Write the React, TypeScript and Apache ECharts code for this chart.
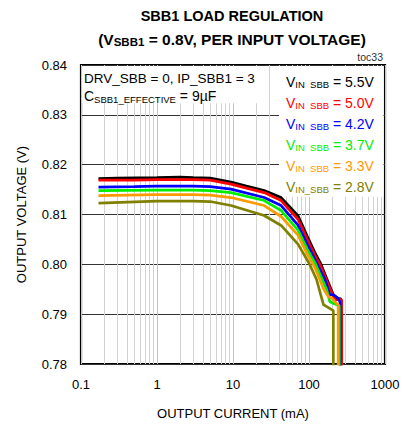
import React, { useEffect, useRef } from "react";
import * as echarts from "echarts";

// ---- data (output current in mA, output voltage in V) ----
const I_55 = [0.17, 0.3, 1, 2, 3, 5, 9.4, 15, 25.7, 43, 72, 95, 119, 141, 180, 210, 240, 262, 262];
const V_55 = [0.8172, 0.8173, 0.8174, 0.8175, 0.8174, 0.8173, 0.8165, 0.8157, 0.8148, 0.8134, 0.8097, 0.8056, 0.8024, 0.8003, 0.7963, 0.7938, 0.7932, 0.7931, 0.77];

const I_50 = [0.17, 0.5, 1, 3, 5, 9.4, 15, 25.7, 43, 72, 95, 119, 141, 180, 220, 269, 269];
const V_50 = [0.8169, 0.8169, 0.817, 0.817, 0.8169, 0.8161, 0.8153, 0.8144, 0.8128, 0.809, 0.805, 0.8018, 0.7998, 0.7959, 0.7929, 0.7929, 0.77];

const I_42 = [0.17, 0.5, 1, 3, 5, 9.4, 25.7, 43, 72, 95, 119, 162, 188, 210, 235, 256, 256];
const V_42 = [0.8155, 0.8156, 0.8157, 0.8157, 0.8156, 0.8151, 0.8134, 0.8118, 0.8078, 0.804, 0.801, 0.7969, 0.7939, 0.7939, 0.7933, 0.7925, 0.77];

const I_37 = [0.17, 1, 3, 5, 9.4, 25.7, 43, 72, 95, 119, 171, 188, 215, 250, 250];
const V_37 = [0.8148, 0.8149, 0.8149, 0.8148, 0.8144, 0.8128, 0.8108, 0.8068, 0.803, 0.8004, 0.7949, 0.7925, 0.7921, 0.7917, 0.77];

const I_33 = [0.17, 1, 3, 5, 9.4, 25.7, 43, 72, 95, 119, 155, 180, 200, 231, 242, 242];
const V_33 = [0.8138, 0.814, 0.814, 0.8139, 0.8134, 0.8118, 0.8096, 0.8058, 0.802, 0.7994, 0.7951, 0.7935, 0.7932, 0.7921, 0.792, 0.77];

const I_28 = [0.17, 1, 3, 5, 9.4, 25.7, 43, 72, 102, 126, 155, 180, 209, 209];
const V_28 = [0.8123, 0.8127, 0.8127, 0.8126, 0.8118, 0.8098, 0.8078, 0.804, 0.8, 0.7969, 0.7919, 0.7913, 0.7907, 0.77];

const SERIES_NAMES = ["5.5V", "5.0V", "4.2V", "3.7V", "3.3V", "2.8V"];
const SERIES_COLORS = ["#000000", "#ff0000", "#0000ff", "#00ee00", "#ff9900", "#808000"];
const SERIES_I = [I_55, I_50, I_42, I_37, I_33, I_28];
const SERIES_V = [V_55, V_50, V_42, V_37, V_33, V_28];

const X_MINOR = [0.2, 0.3, 0.4, 0.5, 0.6, 0.7, 0.8, 0.9, 2, 3, 4, 5, 6, 7, 8, 9, 20, 30, 40, 50, 60, 70, 80, 90, 200, 300, 400, 500, 600, 700, 800, 900];

const FONT = "'Liberation Sans', Arial, sans-serif";

export default function App() {
  const ref = useRef<HTMLDivElement>(null);

  useEffect(() => {
    if (!ref.current) return;
    const chart = echarts.init(ref.current, null, { renderer: "svg" });

    const curves = SERIES_NAMES.map((name, k) => ({
      name,
      type: "line",
      z: 20,
      data: SERIES_I[k].map((x, i) => [x, SERIES_V[k][i]]),
      showSymbol: false,
      symbol: "none",
      clip: true,
      lineStyle: { color: SERIES_COLORS[k], width: 2.7 },
      itemStyle: { color: SERIES_COLORS[k] },
      emphasis: { disabled: true },
      silent: true,
    }));

    const legendTexts = SERIES_NAMES.map((name, k) => ({
      type: "text",
      z: 12,
      x: 286,
      y: 81.5 + 21 * k,
      silent: true,
      style: {
        text: `{v|V}{s|${k === 5 ? "IN_SBB" : "IN  SBB"}}{v| = ${name}}`,
        fill: SERIES_COLORS[k],
        verticalAlign: "middle",
        rich: {
          v: { fontFamily: FONT, fontSize: 14, lineHeight: 16, fill: SERIES_COLORS[k] },
          s: { fontFamily: FONT, fontSize: 9.5, lineHeight: 9, verticalAlign: "bottom", fill: SERIES_COLORS[k] },
        },
      },
    }));

    const option: any = {
      animation: false,
      grid: { left: 81, right: 19, top: 65, bottom: 57, show: true, borderColor: "#000", borderWidth: 2.2, backgroundColor: "transparent", containLabel: false },
      xAxis: {
        type: "log",
        logBase: 10,
        min: 0.1,
        max: 1000,
        axisLine: { show: false },
        axisTick: { show: false },
        splitLine: { show: true, lineStyle: { color: "#c4c4c4", width: 1 } },
        axisLabel: {
          fontFamily: FONT,
          fontSize: 13,
          color: "#000",
          margin: 14,
          formatter: (v: number) => (v < 1 ? v.toFixed(1) : String(Math.round(v))),
        },
        name: "OUTPUT CURRENT (mA)",
        nameLocation: "middle",
        nameGap: 43,
        nameTextStyle: { fontFamily: FONT, fontSize: 13, color: "#000" },
      },
      yAxis: {
        type: "value",
        min: 0.78,
        max: 0.84,
        interval: 0.01,
        axisLine: { show: false },
        axisTick: { show: false },
        splitLine: { show: true, lineStyle: { color: "#333", width: 1 } },
        axisLabel: {
          fontFamily: FONT,
          fontSize: 13,
          color: "#000",
          margin: 14,
          formatter: (v: number) => v.toFixed(2),
        },
        name: "OUTPUT VOLTAGE (V)",
        nameLocation: "middle",
        nameGap: 53,
        nameTextStyle: { fontFamily: FONT, fontSize: 13, color: "#000" },
      },
      series: [
        {
          type: "line",
          z: 1,
          data: [],
          silent: true,
          markLine: {
            silent: true,
            z: 1,
            symbol: ["none", "none"],
            label: { show: false },
            emphasis: { disabled: true },
            lineStyle: { color: "#d2d2d2", width: 1, type: "solid" },
            data: X_MINOR.map((v) => ({ xAxis: v })),
          },
        },
        ...curves,
      ],
      graphic: {
        z: 10,
        elements: [
          {
            type: "rect",
            z: 10,
            silent: true,
            shape: { x: 82.2, y: 66.2, width: 181, height: 37 },
            style: { fill: "#ffffff" },
          },
          {
            type: "rect",
            z: 10,
            silent: true,
            shape: { x: 279, y: 66.2, width: 104.5, height: 130.5 },
            style: { fill: "#ffffff" },
          },
          {
            type: "text",
            z: 12,
            x: 84,
            y: 78.5,
            silent: true,
            style: { text: "DRV_SBB = 0, IP_SBB1 = 3", fontFamily: FONT, fontSize: 13.5, fill: "#000", verticalAlign: "middle" },
          },
          {
            type: "text",
            z: 12,
            x: 84,
            y: 96,
            silent: true,
            style: {
              text: "{v|C}{s|SBB1_EFFECTIVE}{v| = 9µF}",
              verticalAlign: "middle",
              rich: {
                v: { fontFamily: FONT, fontSize: 14, lineHeight: 16, fill: "#000" },
                s: { fontFamily: FONT, fontSize: 9.5, lineHeight: 9, verticalAlign: "bottom", fill: "#000" },
              },
            },
          },
          ...legendTexts,
          {
            type: "text",
            z: 12,
            x: 383,
            y: 57,
            silent: true,
            style: { text: "toc33", fontFamily: FONT, fontSize: 10.5, fill: "#333", align: "right", verticalAlign: "middle" },
          },
          {
            type: "text",
            z: 12,
            x: 232,
            y: 15.5,
            silent: true,
            style: {
              text: "SBB1 LOAD REGULATION",
              fontFamily: FONT,
              fontSize: 14.5,
              fontWeight: "bold",
              fill: "#000",
              align: "center",
              verticalAlign: "middle",
            },
          },
          {
            type: "text",
            z: 12,
            x: 232,
            y: 39,
            silent: true,
            style: {
              text: "{v|(V}{s|SBB1}{v| = 0.8V, PER INPUT VOLTAGE)}",
              align: "center",
              verticalAlign: "middle",
              rich: {
                v: { fontFamily: FONT, fontSize: 15.5, fontWeight: "bold", lineHeight: 18, fill: "#000" },
                s: { fontFamily: FONT, fontSize: 11.5, fontWeight: "bold", lineHeight: 11, verticalAlign: "bottom", fill: "#000" },
              },
            },
          },
        ],
      },
    };

    chart.setOption(option);
    return () => chart.dispose();
  }, []);

  return (
    <div
      ref={ref}
      style={{ position: "fixed", left: 0, top: 0, width: 404, height: 425, background: "#fff" }}
    />
  );
}
